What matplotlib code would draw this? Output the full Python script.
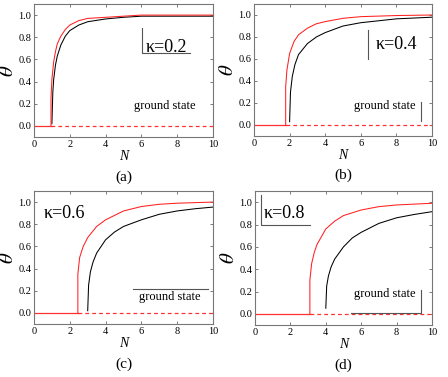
import matplotlib
matplotlib.use("Agg")
import matplotlib.pyplot as plt

plt.rcParams['font.family'] = ['Liberation Serif', 'DejaVu Serif']
plt.rcParams['mathtext.fontset'] = 'stix'

kappas = ["0.2", "0.4", "0.6", "0.8"]
panel_labels = ["(a)", "(b)", "(c)", "(d)"]
x_ticks = [0, 2, 4, 6, 8, 10]
y_ticks = [0.0, 0.2, 0.4, 0.6, 0.8, 1.0]

# thresholds of the red curves (ground-state line solid up to here, dashed after)
crit_red = [0.95, 1.78, 2.45, 3.1]

red_a_x = [0.95, 0.95, 1.0, 1.1, 1.2, 1.3, 1.5, 1.75, 2.0, 2.5, 3.0, 4.0, 5.0, 6.0, 8.0, 10.0]
red_a_y = [0.0, 0.25, 0.42, 0.58, 0.67, 0.74, 0.81, 0.87, 0.91, 0.95, 0.97, 0.98, 0.99, 1.0, 1.0, 1.0]
blk_a_x = [1.0, 1.05, 1.1, 1.2, 1.3, 1.5, 1.75, 2.0, 2.5, 3.0, 4.0, 5.0, 6.0, 8.0, 10.0]
blk_a_y = [0.02, 0.3, 0.42, 0.55, 0.63, 0.73, 0.81, 0.86, 0.91, 0.94, 0.965, 0.98, 0.99, 0.99, 0.99]

red_b_x = [1.78, 1.78, 1.85, 2.0, 2.25, 2.5, 3.0, 3.5, 4.0, 5.0, 6.0, 8.0, 10.0]
red_b_y = [0.0, 0.35, 0.5, 0.65, 0.76, 0.82, 0.88, 0.92, 0.94, 0.97, 0.985, 0.995, 1.0]
blk_b_x = [2.0, 2.05, 2.15, 2.3, 2.5, 3.0, 3.5, 4.0, 5.0, 6.0, 8.0, 10.0]
blk_b_y = [0.03, 0.3, 0.44, 0.55, 0.64, 0.74, 0.8, 0.84, 0.9, 0.93, 0.965, 0.98]

red_c_x = [2.45, 2.45, 2.55, 2.75, 3.0, 3.5, 4.0, 5.0, 6.0, 7.0, 8.0, 10.0]
red_c_y = [0.0, 0.35, 0.5, 0.6, 0.68, 0.78, 0.84, 0.92, 0.96, 0.98, 0.99, 1.0]
blk_c_x = [3.0, 3.05, 3.15, 3.3, 3.5, 4.0, 4.5, 5.0, 6.0, 7.0, 8.0, 9.0, 10.0]
blk_c_y = [0.02, 0.25, 0.37, 0.46, 0.54, 0.66, 0.73, 0.78, 0.84, 0.89, 0.92, 0.94, 0.955]

red_d_x = [3.1, 3.1, 3.2, 3.35, 3.5, 4.0, 4.5, 5.0, 6.0, 7.0, 8.0, 10.0]
red_d_y = [0.0, 0.3, 0.45, 0.55, 0.62, 0.76, 0.83, 0.88, 0.93, 0.96, 0.975, 0.99]
blk_d_x = [4.0, 4.05, 4.15, 4.3, 4.5, 5.0, 5.5, 6.0, 7.0, 8.0, 9.0, 10.0]
blk_d_y = [0.05, 0.25, 0.34, 0.42, 0.49, 0.6, 0.68, 0.73, 0.81, 0.86, 0.89, 0.915]

reds = [(red_a_x, red_a_y), (red_b_x, red_b_y), (red_c_x, red_c_y), (red_d_x, red_d_y)]
blacks = [(blk_a_x, blk_a_y), (blk_b_x, blk_b_y), (blk_c_x, blk_c_y), (blk_d_x, blk_d_y)]

fig = plt.figure(figsize=(4.48, 3.77), dpi=100)
H = 377.0
W = 448.0
boxes = [(34, 213, 4, 137), (254, 432, 4, 136), (34, 213, 191, 324), (255, 432, 191, 325)]

# text positions (data coords)
kappa_pos = [(7.4, 0.71), (8.0, 0.73), (1.7, 0.9), (1.64, 0.9)]
gs_pos = [(7.3, 0.18), (7.35, 0.17), (7.6, 0.14), (7.35, 0.18)]

gray = '#555555'
for i in range(4):
    l, r, t, b = boxes[i]
    ax = fig.add_axes([l / W, 1 - b / H, (r - l) / W, (b - t) / H])
    ax.set_xlim(0, 10)
    ax.set_ylim(-0.1, 1.1)
    ax.set_xticks(x_ticks)
    ax.set_yticks(y_ticks)
    ax.set_xticklabels([str(v) for v in x_ticks])
    ax.set_yticklabels(["%.1f" % v for v in y_ticks])
    ax.tick_params(direction='in', top=True, right=True, labelsize=7.5, length=2.5,
                   width=0.6, color='#666666', pad=2)
    for s in ax.spines.values():
        s.set_color('#777777')
        s.set_linewidth(0.8)
    c = crit_red[i]
    ax.plot([0, c], [0, 0], color='#ff3030', lw=0.9)
    ax.plot([c, 10], [0, 0], color='#ff3030', lw=0.9, ls=(0, (3, 2.5)))
    bx, by = blacks[i]
    ax.plot(bx, by, color='black', lw=0.75)
    rx, ry = reds[i]
    ax.plot(rx, ry, color='#ff2020', lw=0.75)
    ax.set_xlabel('N', fontstyle='italic', fontsize=10, labelpad=1)
    ax.set_ylabel(r'$\theta$', fontsize=15, labelpad=0)
    kx, ky = kappa_pos[i]
    ax.text(kx, ky, 'κ=' + kappas[i], fontsize=13, ha='center', va='center')
    gx, gy = gs_pos[i]
    ax.text(gx, gy, 'ground state', fontsize=9, ha='center', va='center')
    ax.text(0.5, -0.3, panel_labels[i], transform=ax.transAxes, fontsize=11,
            ha='center', va='center')
    lk = dict(color=gray, lw=0.8, transform=ax.transAxes, clip_on=False)
    if i == 0:
        ax.plot([0.603, 0.603, 0.87], [0.82, 0.63, 0.63], **lk)
    elif i == 1:
        ax.plot([0.64, 0.64], [0.8, 0.58], **lk)
        ax.plot([0.94, 0.94], [0.26, 0.11], **lk)
    elif i == 2:
        ax.plot([0.555, 0.97], [0.265, 0.265], **lk)
    else:
        ax.plot([0.035, 0.035, 0.31], [0.97, 0.75, 0.75], **lk)
        ax.plot([0.54, 0.94, 0.94], [0.09, 0.09, 0.26], **lk)

fig.savefig('out.png', dpi=100)
